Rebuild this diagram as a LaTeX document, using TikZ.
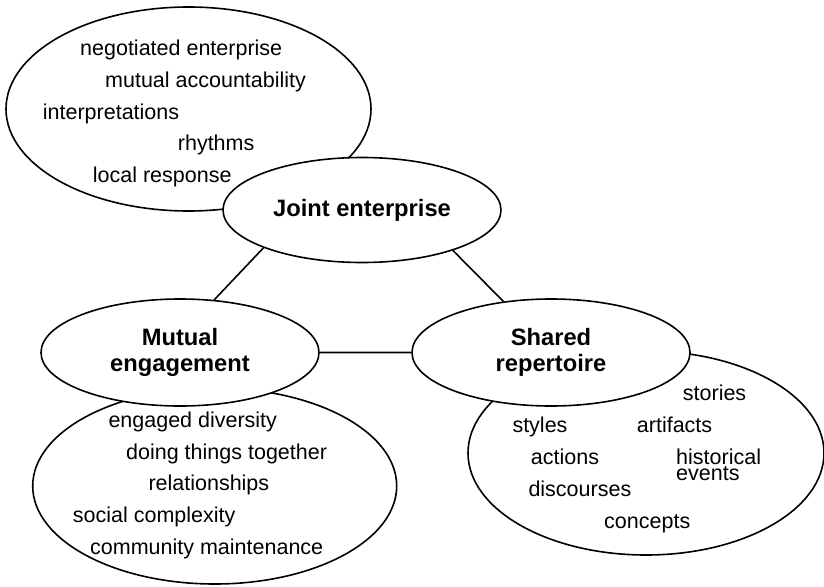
\documentclass[tikz,border=0pt]{standalone}
\usepackage{fontspec}
\setmainfont{Liberation Sans}
\usetikzlibrary{shapes.geometric}
\tikzset{hub/.style={draw,ellipse,fill=white,line width=1.6pt,minimum width=278pt,minimum height=105pt,inner sep=0pt,align=center,font=\fontsize{23.7}{25.7}\selectfont\bfseries},
  cloud/.style={draw,ellipse,line width=1.6pt,inner sep=0pt},
  word/.style={anchor=base west,inner sep=0pt,font=\fontsize{21.5}{25}\selectfont}}

\begin{document}
\begin{tikzpicture}[x=1pt,y=-1pt]
          \useasboundingbox (0,0) rectangle (824,586);

          % the big clouds
          \node (jec) [cloud,minimum width=365pt,minimum height=204pt] at (188.5,109) {};
          \node (mec) [cloud,minimum width=364pt,minimum height=196pt] at (214.7,486) {};
          \node (src) [cloud,minimum width=356pt,minimum height=204pt] at (646,453) {};

          % the three hubs
          \node (je) [hub] at (362,210) {Joint enterprise};
          \node (me) [hub,minimum height=107pt] at (180,352.5) {Mutual\\engagement};
          \node (sr) [hub,minimum height=107pt] at (551,352.5) {Shared\\repertoire};

          % links
          \draw[line width=1.6pt] (je.201.7) -- (me.57.3) (je.336) -- (sr.133.3) (me.east) -- (sr.west);

          % words
          \foreach \x/\y/\t [count=\n] in {80/55.7/negotiated enterprise, 105/87.7/mutual accountability, 42.7/119.3/interpretations, 177.7/150.7/rhythms, 92.7/182.3/local response}
          {\node (jw-\n) [word] at (\x,\y) {\t};}
          \foreach \x/\y/\t [count=\n] in {108.3/427.3/engaged diversity, 126/459.3/doing things together, 148.3/490/relationships, 72.7/522.7/social complexity, 90/554/community maintenance}
          {\node (mw-\n) [word] at (\x,\y) {\t};}
          \foreach \x/\y/\t [count=\n] in {682.7/400.7/stories, 512.3/432.7/styles, 636.7/432.7/artifacts, 530.7/464.3/actions, 676/464.3/historical, 676/480.7/events, 528.3/496.7/discourses, 604/528.3/concepts}
          {\node (sw-\n) [word] at (\x,\y) {\t};}

        \end{tikzpicture}
\end{document}
